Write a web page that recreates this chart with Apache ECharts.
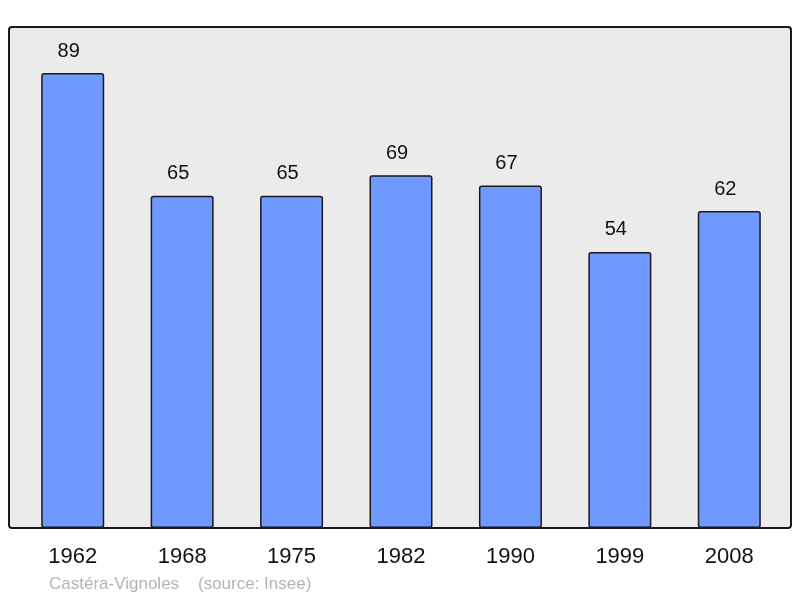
<!DOCTYPE html>
<html>
<head>
<meta charset="utf-8">
<script src="https://cdn.jsdelivr.net/npm/echarts@6/dist/echarts.min.js"></script>
<style>
	html, body { margin: 0; padding: 0; background: #fff; }
	#chart { width: 800px; height: 598px; }
</style>
</head>
<body>
<div id="chart"></div>
<script>
// Population per census year
const years = ['1962', '1968', '1975', '1982', '1990', '1999', '2008']
const population = [89, 65, 65, 69, 67, 54, 62]
const yMax = 98

const chart = echarts.init(document.getElementById('chart'))

const option = {
	animation: false,
	graphic: [
		{
			type: 'rect',
			z: -10,
			shape: { x: 9, y: 27, width: 782, height: 501, r: 3 },
			style: { fill: '#ebebeb', stroke: '#1a1a1a', lineWidth: 2 }
		},
		{
			type: 'text',
			left: 49,
			top: 576,
			style: {
				text: 'Castéra-Vignoles    (source: Insee)',
				fill: '#b4b4b4',
				font: '17px "Liberation Sans", Arial, sans-serif'
			}
		}
	],
	grid: {
		left: 18,
		right: 16,
		top: 27,
		bottom: 70
	},
	xAxis: {
		type: 'category',
		data: years,
		axisLine: { show: false },
		axisTick: { show: false },
		axisLabel: {
			color: '#111',
			fontSize: 22,
			fontFamily: '"Liberation Sans", Arial, sans-serif',
			margin: 18
		}
	},
	yAxis: {
		type: 'value',
		min: 0,
		max: yMax,
		show: false
	},
	series: [{
		type: 'bar',
		data: population,
		barWidth: 63,
		itemStyle: {
			color: '#7099ff',
			borderColor: '#1a1a1a',
			borderWidth: 1.5,
			borderRadius: 2
		},
		label: {
			show: true,
			position: 'top',
			distance: 12,
			offset: [-4, 0],
			color: '#111',
			fontSize: 20,
			fontFamily: '"Liberation Sans", Arial, sans-serif'
		}
	}]
}

chart.setOption(option)
</script>
</body>
</html>
